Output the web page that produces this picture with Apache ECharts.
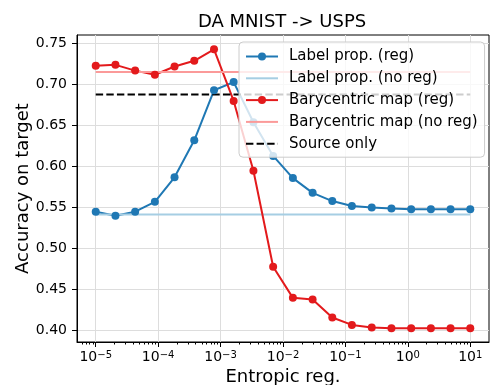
<!DOCTYPE html>
<html><head><meta charset="utf-8">
<script src="https://cdn.jsdelivr.net/npm/echarts@6/dist/echarts.min.js"></script>
<style>html,body{margin:0;padding:0;background:#fff}#c{width:491px;height:385px}</style>
</head><body><div id="c"></div>
<script>
// ---- data ----
const entropicReg = [1e-5, 2.07e-5, 4.28e-5, 8.86e-5, 1.83e-4, 3.79e-4, 7.85e-4, 1.62e-3, 3.36e-3, 6.95e-3,
  1.44e-2, 2.98e-2, 6.16e-2, 1.27e-1, 2.64e-1, 5.46e-1, 1.13, 2.34, 4.83, 10];
const labelPropReg = [0.545, 0.540, 0.545, 0.557, 0.587, 0.632, 0.693, 0.703, 0.654, 0.613,
  0.586, 0.568, 0.558, 0.552, 0.550, 0.549, 0.548, 0.548, 0.548, 0.548];
const baryReg = [0.723, 0.724, 0.717, 0.712, 0.722, 0.729, 0.743, 0.680, 0.595, 0.478,
  0.440, 0.438, 0.416, 0.407, 0.404, 0.403, 0.403, 0.403, 0.403, 0.403];
const labelPropNoReg = 0.5415;
const baryNoReg = 0.7154;
const sourceOnly = 0.6878;
const hLineX = [1e-5, 10];
const xTicks = [1e-5, 1e-4, 1e-3, 1e-2, 1e-1, 1e0, 1e1];
const yTicks = [0.40, 0.45, 0.50, 0.55, 0.60, 0.65, 0.70, 0.75];
const seriesNames = ['Label prop. (reg)', 'Label prop. (no reg)', 'Barycentric map (reg)', 'Barycentric map (no reg)', 'Source only'];

const xMin = Math.pow(10, -5.3), xMax = Math.pow(10, 1.3);
const minorTicks = [];
for (let e = -6; e <= 1; e++) for (let k = 2; k <= 9; k++) {
  const v = k * Math.pow(10, e);
  if (v >= xMin && v <= xMax) minorTicks.push(v);
}
const FONT = 'DejaVu Sans';
function fmtX(v) {
  const e = Math.round(Math.log10(v));
  return '{b|10}{s|' + (e < 0 ? '\u2212' + (-e) : e) + '}';
}
const noSym = {color: 'rgba(0,0,0,0)', borderWidth: 0, opacity: 0};
const chart = echarts.init(document.getElementById('c'), null, {renderer: 'canvas'});
const hline = (y) => hLineX.map(x => [x, y]);
chart.setOption({
  animation: false,
  backgroundColor: '#fff',
  textStyle: {fontFamily: FONT},
  title: {
    text: 'DA MNIST -> USPS', left: 198, top: 13, padding: 0,
    textStyle: {fontFamily: FONT, fontSize: 18, fontWeight: 'normal', color: '#000'}
  },
  grid: {left: 77, right: 2, top: 35, bottom: 43, show: true, borderColor: '#000', borderWidth: 1,
         containLabel: false, outerBoundsMode: 'none'},
  legend: {
    data: [
      {name: seriesNames[0]},
      {name: seriesNames[1], itemStyle: noSym},
      {name: seriesNames[2]},
      {name: seriesNames[3], itemStyle: noSym},
      {name: seriesNames[4], itemStyle: noSym}
    ],
    orient: 'vertical', left: 239, top: 42,
    padding: [7, 7, 6, 6], itemGap: 6.8, itemWidth: 32, itemHeight: 10,
    backgroundColor: 'rgba(255,255,255,0.8)', borderColor: '#cccccc', borderWidth: 1, borderRadius: 4,
    textStyle: {fontFamily: FONT, fontSize: 15, color: '#000', lineHeight: 14, padding: [0, 0, 0, 6]}
  },
  xAxis: [{
    type: 'log', logBase: 10, min: xMin, max: xMax,
    name: 'Entropic reg.', nameLocation: 'middle', nameGap: 26, nameMoveOverlap: false,
    nameTextStyle: {fontFamily: FONT, fontSize: 18, color: '#000'},
    axisLine: {show: true, lineStyle: {color: '#000', width: 1}},
    axisTick: {show: true, customValues: xTicks, length: 5, lineStyle: {color: '#000'}},
    axisLabel: {
      customValues: xTicks, formatter: fmtX, margin: 8, color: '#000',
      rich: {b: {fontFamily: FONT, fontSize: 14, color: '#000', verticalAlign: 'bottom'},
             s: {fontFamily: FONT, fontSize: 10, color: '#000', verticalAlign: 'top'}}
    },
    splitLine: {show: true, lineStyle: {color: '#dddddd', width: 1}}
  }, {
    type: 'log', logBase: 10, min: xMin, max: xMax, position: 'bottom',
    axisLine: {show: false},
    axisTick: {show: true, customValues: minorTicks, length: 2.5, lineStyle: {color: '#000'}},
    axisLabel: {show: false},
    splitLine: {show: false}
  }],
  yAxis: {
    type: 'value', min: 0.3862, max: 0.7604, splitNumber: 7,
    name: 'Accuracy on target', nameLocation: 'middle', nameGap: 45, nameMoveOverlap: false,
    nameTextStyle: {fontFamily: FONT, fontSize: 18, color: '#000'},
    axisLine: {show: true, lineStyle: {color: '#000', width: 1}},
    axisTick: {show: true, customValues: yTicks, length: 5, lineStyle: {color: '#000'}},
    axisLabel: {customValues: yTicks, formatter: v => v.toFixed(2), fontSize: 14, color: '#000', margin: 10, fontFamily: FONT},
    splitLine: {show: true, lineStyle: {color: '#dddddd', width: 1}}
  },
  series: [
    {name: seriesNames[0], type: 'line', data: entropicReg.map((x, i) => [x, labelPropReg[i]]),
     symbol: 'circle', symbolSize: 8, color: '#1f78b4', lineStyle: {width: 2, color: '#1f78b4'}, itemStyle: {color: '#1f78b4'}},
    {name: seriesNames[1], type: 'line', data: hline(labelPropNoReg), symbol: 'none',
     color: '#a6cee3', lineStyle: {width: 2, color: '#a6cee3'}},
    {name: seriesNames[2], type: 'line', data: entropicReg.map((x, i) => [x, baryReg[i]]),
     symbol: 'circle', symbolSize: 8, color: '#e31a1c', lineStyle: {width: 2, color: '#e31a1c'}, itemStyle: {color: '#e31a1c'}},
    {name: seriesNames[3], type: 'line', data: hline(baryNoReg), symbol: 'none',
     color: '#fb9a99', lineStyle: {width: 2, color: '#fb9a99'}},
    {name: seriesNames[4], type: 'line', data: hline(sourceOnly), symbol: 'none',
     color: '#000', lineStyle: {width: 2, color: '#000', type: [7.4, 3.2]}}
  ]
});
</script></body></html>
